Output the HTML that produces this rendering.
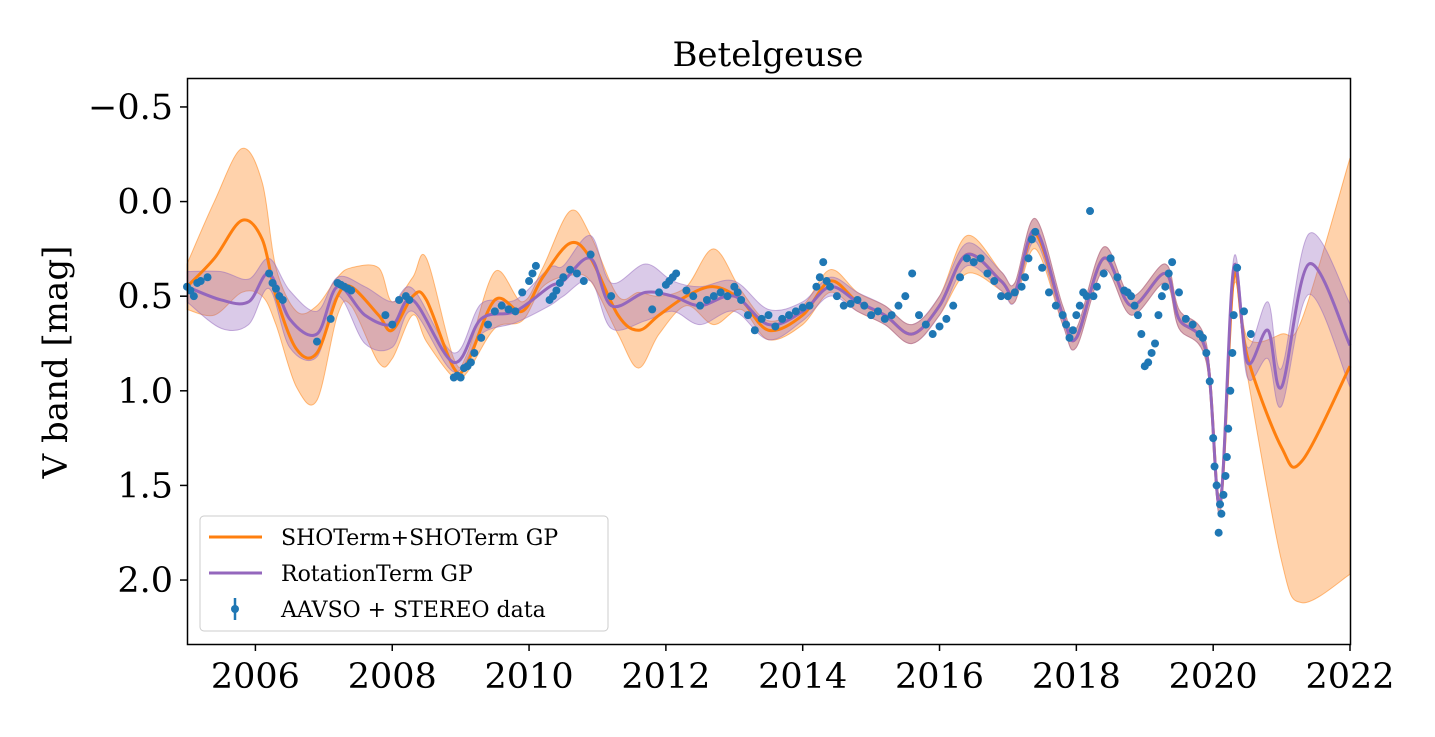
<!DOCTYPE html>
<html><head><meta charset="utf-8"><style>
body{margin:0;background:#fff}
text{font-family:"DejaVu Serif","Liberation Serif",serif;fill:#000}
</style></head><body>
<svg id="chart" width="1435" height="732" xmlns="http://www.w3.org/2000/svg">
<text x="768" y="66" font-size="34" text-anchor="middle">Betelgeuse</text>
<g id="bands"></g><g id="lines"></g><g id="pts"></g>
<rect x="187.5" y="78.5" width="1163" height="566" fill="none" stroke="#000" stroke-width="1.5"/>
<g id="axes"></g>
<text transform="translate(67,362) rotate(-90)" font-size="34" text-anchor="middle">V band [mag]</text>
<g>
<rect x="200" y="516" width="408" height="115" rx="4" fill="#fff" fill-opacity="0.8" stroke="#ccc"/>
<line x1="209" y1="537" x2="262" y2="537" stroke="#ff7f0e" stroke-width="3"/>
<text x="281" y="545" font-size="22">SHOTerm+SHOTerm GP</text>
<line x1="209" y1="573" x2="262" y2="573" stroke="#9467bd" stroke-width="3"/>
<text x="281" y="581" font-size="22">RotationTerm GP</text>
<line x1="235" y1="598" x2="235" y2="620" stroke="#1f77b4" stroke-width="2.5"/>
<circle cx="235" cy="609" r="4" fill="#1f77b4"/>
<text x="281" y="617" font-size="22">AAVSO + STEREO data</text>
</g>
</svg>
<script>
const xTicks=[2006,2008,2010,2012,2014,2016,2018,2020,2022];
const yTicks=[-0.5,0.0,0.5,1.0,1.5,2.0];
const shoT=[2005,2005.4,2005.8,2006.1,2006.3,2006.6,2006.9,2007.2,2007.4,2007.8,2008.0,2008.3,2008.5,2008.9,2009.1,2009.5,2009.9,2010.2,2010.6,2010.9,2011.3,2011.6,2011.9,2012.3,2012.7,2013.1,2013.5,2014.0,2014.4,2014.8,2015.2,2015.6,2016.0,2016.4,2016.9,2017.1,2017.4,2017.8,2018.0,2018.4,2018.8,2019.3,2019.5,2019.9,2020.1,2020.3,2020.5,2021.0,2021.3,2022];
const shoMean=[0.45,0.3,0.1,0.2,0.5,0.78,0.8,0.5,0.45,0.6,0.68,0.5,0.52,0.88,0.85,0.52,0.58,0.4,0.22,0.3,0.6,0.68,0.6,0.5,0.45,0.52,0.68,0.6,0.42,0.53,0.6,0.7,0.55,0.28,0.42,0.48,0.17,0.6,0.72,0.3,0.55,0.38,0.62,0.8,1.6,0.4,0.82,1.3,1.37,0.87];
const shoErr=[0.12,0.3,0.38,0.3,0.15,0.2,0.25,0.1,0.1,0.25,0.15,0.1,0.22,0.05,0.05,0.15,0.05,0.05,0.17,0.12,0.1,0.2,0.1,0.05,0.2,0.05,0.05,0.05,0.06,0.05,0.05,0.05,0.05,0.1,0.05,0.05,0.08,0.05,0.05,0.06,0.05,0.05,0.05,0.05,0.05,0.05,0.1,0.6,0.75,1.1];
const rotT=[2005,2005.5,2005.9,2006.2,2006.5,2006.9,2007.2,2007.6,2008.0,2008.3,2008.9,2009.3,2009.8,2010.3,2010.5,2010.9,2011.2,2011.7,2012.1,2012.5,2013.0,2013.5,2014.0,2014.4,2014.8,2015.2,2015.6,2016.0,2016.4,2016.9,2017.1,2017.4,2017.8,2018.0,2018.4,2018.8,2019.3,2019.5,2019.9,2020.1,2020.3,2020.5,2020.8,2021.0,2021.4,2022];
const rotMean=[0.45,0.52,0.53,0.38,0.62,0.7,0.45,0.6,0.65,0.52,0.85,0.62,0.58,0.45,0.42,0.3,0.55,0.48,0.5,0.55,0.5,0.65,0.58,0.45,0.53,0.6,0.7,0.55,0.28,0.42,0.48,0.15,0.6,0.72,0.3,0.55,0.38,0.62,0.8,1.6,0.35,0.85,0.68,0.98,0.33,0.76];
const rotErr=[0.08,0.15,0.12,0.08,0.15,0.12,0.05,0.15,0.12,0.06,0.05,0.08,0.06,0.1,0.08,0.12,0.12,0.15,0.08,0.1,0.08,0.08,0.05,0.05,0.05,0.05,0.05,0.05,0.06,0.05,0.05,0.06,0.05,0.05,0.06,0.05,0.05,0.05,0.05,0.05,0.05,0.08,0.15,0.1,0.16,0.22];
const dataT=[2005.0,2005.05,2005.1,2005.15,2005.2,2005.3,2006.2,2006.25,2006.3,2006.35,2006.4,2006.9,2007.1,2007.2,2007.25,2007.3,2007.35,2007.4,2007.9,2008.0,2008.1,2008.2,2008.25,2008.9,2008.95,2009.0,2009.05,2009.1,2009.15,2009.2,2009.3,2009.4,2009.5,2009.6,2009.7,2009.8,2009.9,2010.0,2010.05,2010.1,2010.3,2010.35,2010.4,2010.45,2010.5,2010.6,2010.7,2010.8,2010.9,2011.2,2011.8,2011.9,2012.0,2012.05,2012.1,2012.15,2012.3,2012.4,2012.5,2012.6,2012.7,2012.8,2012.9,2013.0,2013.05,2013.1,2013.2,2013.3,2013.4,2013.5,2013.6,2013.7,2013.8,2013.9,2014.0,2014.1,2014.2,2014.25,2014.3,2014.35,2014.4,2014.5,2014.6,2014.7,2014.8,2014.9,2015.0,2015.1,2015.2,2015.3,2015.4,2015.5,2015.6,2015.7,2015.8,2015.9,2016.0,2016.1,2016.2,2016.3,2016.4,2016.5,2016.6,2016.7,2016.8,2016.9,2017.0,2017.1,2017.2,2017.25,2017.3,2017.35,2017.4,2017.5,2017.6,2017.7,2017.8,2017.85,2017.9,2017.95,2018.0,2018.05,2018.1,2018.15,2018.2,2018.25,2018.3,2018.4,2018.5,2018.6,2018.7,2018.75,2018.8,2018.85,2018.9,2018.95,2019.0,2019.05,2019.1,2019.15,2019.2,2019.25,2019.3,2019.35,2019.4,2019.5,2019.6,2019.7,2019.8,2019.85,2019.9,2019.95,2020.0,2020.02,2020.05,2020.08,2020.1,2020.12,2020.15,2020.18,2020.2,2020.22,2020.25,2020.28,2020.3,2020.35,2020.45,2020.55];
const dataMag=[0.45,0.47,0.5,0.43,0.42,0.4,0.38,0.43,0.46,0.5,0.52,0.74,0.62,0.43,0.44,0.45,0.46,0.47,0.6,0.65,0.52,0.5,0.52,0.93,0.92,0.93,0.88,0.87,0.85,0.8,0.72,0.65,0.58,0.55,0.57,0.58,0.48,0.42,0.38,0.34,0.52,0.5,0.47,0.43,0.4,0.36,0.38,0.42,0.28,0.5,0.57,0.48,0.44,0.42,0.4,0.38,0.47,0.5,0.55,0.52,0.5,0.48,0.5,0.45,0.48,0.52,0.6,0.68,0.62,0.6,0.66,0.62,0.6,0.58,0.56,0.55,0.45,0.4,0.32,0.42,0.45,0.5,0.55,0.54,0.52,0.55,0.6,0.58,0.62,0.6,0.55,0.5,0.38,0.6,0.65,0.7,0.66,0.62,0.55,0.4,0.3,0.32,0.3,0.38,0.42,0.5,0.5,0.48,0.45,0.4,0.3,0.2,0.16,0.35,0.48,0.55,0.6,0.65,0.72,0.68,0.6,0.55,0.48,0.5,0.05,0.5,0.45,0.38,0.3,0.4,0.47,0.48,0.5,0.55,0.6,0.7,0.87,0.85,0.8,0.75,0.6,0.5,0.45,0.38,0.32,0.48,0.62,0.65,0.7,0.72,0.8,0.95,1.25,1.4,1.5,1.75,1.6,1.65,1.55,1.45,1.35,1.2,1.0,0.8,0.6,0.35,0.58,0.7,0.88];
const X0=187,X1=1350,Y0=78,Y1=644,xmin=2005,xmax=2022,ymin=-0.653,ymax=2.338;
const sx=v=>X0+(v-xmin)/(xmax-xmin)*(X1-X0);
const sy=v=>Y0+(v-ymin)/(ymax-ymin)*(Y1-Y0);
const NS="http://www.w3.org/2000/svg";
function mk(tag,attrs,parent){const e=document.createElementNS(NS,tag);for(const k in attrs)e.setAttribute(k,attrs[k]);parent.appendChild(e);return e;}
function smooth(pts){let d=`M${pts[0][0]},${pts[0][1]}`;for(let i=0;i<pts.length-1;i++){const p0=pts[Math.max(i-1,0)],p1=pts[i],p2=pts[i+1],p3=pts[Math.min(i+2,pts.length-1)];const c1=[p1[0]+(p2[0]-p0[0])/6,p1[1]+(p2[1]-p0[1])/6],c2=[p2[0]-(p3[0]-p1[0])/6,p2[1]-(p3[1]-p1[1])/6];d+=`C${c1[0]},${c1[1]} ${c2[0]},${c2[1]} ${p2[0]},${p2[1]}`;}return d;}
function band(T,M,E,fill,stroke,name){const up=T.map((t,i)=>[sx(t),sy(M[i]-E[i])]);const lo=T.map((t,i)=>[sx(t),sy(M[i]+E[i])]).reverse();const d=smooth(up)+smooth(lo).replace('M','L')+'Z';
const p=mk('path',{d,fill,'fill-opacity':0.35,stroke,'stroke-opacity':0.5},document.getElementById('bands'));

}
band(shoT,shoMean,shoErr,'#ff7f0e','#ff7f0e','sho-band');
band(rotT,rotMean,rotErr,'#9467bd','#9467bd','rotation-band');
function line(T,M,c,name){const p=mk('path',{d:smooth(T.map((t,i)=>[sx(t),sy(M[i])])),fill:'none',stroke:c,'stroke-width':3},document.getElementById('lines'));

}
line(shoT,shoMean,'#ff7f0e','sho-line');
line(rotT,rotMean,'#9467bd','rotation-line');
const pg=document.getElementById('pts');
dataT.forEach((t,i)=>{const c=mk('circle',{cx:sx(t),cy:sy(dataMag[i]),r:4,fill:'#1f77b4'},pg);

});
const ag=document.getElementById('axes');
xTicks.forEach(v=>{const x=sx(v);mk('line',{x1:x,x2:x,y1:Y1,y2:Y1+7,stroke:'#000','stroke-width':1.5},ag);
const t=mk('text',{x:x,y:Y1+44,'font-size':35,'text-anchor':'middle'},ag);t.textContent=v;

});
yTicks.forEach(v=>{const y=sy(v);mk('line',{x1:X0-7,x2:X0,y1:y,y2:y,stroke:'#000','stroke-width':1.5},ag);
const t=mk('text',{x:X0-14,y:y+12,'font-size':35,'text-anchor':'end'},ag);t.textContent=(v<0?'\u2212':'')+Math.abs(v).toFixed(1);

});
</script>
</body></html>
